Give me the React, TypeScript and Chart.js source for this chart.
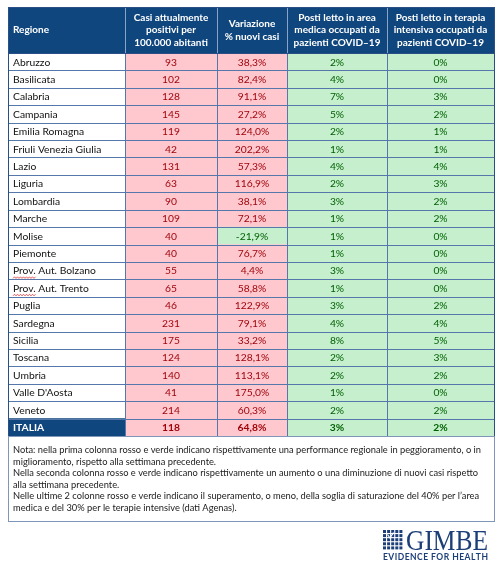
import React, { useEffect, useRef } from 'react';
import { Chart, registerables } from 'chart.js';

Chart.register(...registerables);

// ---------- DATA ----------
const regions = [
  'Abruzzo', 'Basilicata', 'Calabria', 'Campania', 'Emilia Romagna', 'Friuli Venezia Giulia',
  'Lazio', 'Liguria', 'Lombardia', 'Marche', 'Molise', 'Piemonte', 'Prov. Aut. Bolzano',
  'Prov. Aut. Trento', 'Puglia', 'Sardegna', 'Sicilia', 'Toscana', 'Umbria', "Valle D'Aosta",
  'Veneto', 'ITALIA',
];
const casiPer100k = [93, 102, 128, 145, 119, 42, 131, 63, 90, 109, 40, 40, 55, 65, 46, 231, 175, 124, 140, 41, 214, 118];
// first column: red = worsening vs previous week (all regions worsening)
const casiPeggioramento = [true, true, true, true, true, true, true, true, true, true, true, true, true, true, true, true, true, true, true, true, true, true];
const variazionePct = [38.3, 82.4, 91.1, 27.2, 124.0, 202.2, 57.3, 116.9, 38.1, 72.1, -21.9, 76.7, 4.4, 58.8, 122.9, 79.1, 33.2, 128.1, 113.1, 175.0, 60.3, 64.8];
const areaMedicaPct = [2, 4, 7, 5, 2, 1, 4, 2, 3, 1, 1, 1, 3, 1, 3, 4, 8, 2, 2, 1, 2, 3];
const terapiaIntensivaPct = [0, 0, 3, 2, 1, 1, 4, 3, 2, 2, 0, 0, 0, 0, 2, 4, 5, 3, 2, 0, 2, 2];
const sogliaAreaMedica = 40;
const sogliaTerapiaIntensiva = 30;

const headerLabels = [
  ['Regione'],
  ['Casi attualmente', 'positivi per', '100.000 abitanti'],
  ['Variazione', '% nuovi casi'],
  ['Posti letto in area', 'medica occupati da', 'pazienti COVID–19'],
  ['Posti letto in terapia', 'intensiva occupati da', 'pazienti COVID–19'],
];
const noteLines = [
  'Nota: nella prima colonna rosso e verde indicano rispettivamente una performance regionale in peggioramento, o in',
  'miglioramento, rispetto alla settimana precedente.',
  'Nella seconda colonna rosso e verde indicano rispettivamente un aumento o una diminuzione di nuovi casi rispetto',
  'alla settimana precedente.',
  'Nelle ultime 2 colonne rosso e verde indicano il superamento, o meno, della soglia di saturazione del 40% per l’area',
  'medica e del 30% per le terapie intensive (dati Agenas).',
];
const logoTitle = 'GIMBE';
const logoSubtitle = 'EVIDENCE FOR HEALTH';

// ---------- LAYOUT / STYLE ----------
const W = 503;
const H = 567;
const COL_EDGES = [0, 117, 209, 279, 379, 486];
const HEADER_H = 46;
const NOTE_BOTTOM = 521;
const FONT = 'Lato, "Open Sans", sans-serif';
const HEADER_BG = '#0f467d';
const RED_BG = '#ffc7ce';
const RED_TX = '#9c0006';
const GREEN_BG = '#c6efce';
const GREEN_TX = '#006100';
const GRID = '#5677ab';
const BORDER = '#2a4f86';
const LOGO = '#1d3f78';

const fmtPct1 = (v: number) => v.toFixed(1).replace('.', ',') + '%';

const isRed = (col: number, i: number): boolean => {
  if (col === 1) return casiPeggioramento[i];
  if (col === 2) return variazionePct[i] > 0;
  if (col === 3) return areaMedicaPct[i] >= sogliaAreaMedica;
  return terapiaIntensivaPct[i] >= sogliaTerapiaIntensiva;
};

const cellText = (col: number, i: number): string => {
  if (col === 0) return regions[i];
  if (col === 1) return String(casiPer100k[i]);
  if (col === 2) return fmtPct1(variazionePct[i]);
  if (col === 3) return areaMedicaPct[i] + '%';
  return terapiaIntensivaPct[i] + '%';
};

const lastRow = regions.length - 1;

const tablePlugin = {
  id: 'tablePlugin',
  afterDatasetsDraw(chart: any) {
    const { ctx, chartArea: ca, scales } = chart;
    const xs = scales.x;
    const ys = scales.y;
    const ex = COL_EDGES.map((v) => xs.getPixelForValue(v));
    const band = ys.getPixelForValue(1) - ys.getPixelForValue(0);
    const crisp = (v: number) => Math.round(v) + 0.5;
    ctx.save();

    // header
    const hTop = ca.top - HEADER_H;
    ctx.fillStyle = HEADER_BG;
    ctx.fillRect(ex[0], hTop, ex[5] - ex[0], HEADER_H);
    ctx.strokeStyle = '#8aa3c8';
    ctx.lineWidth = 1;
    for (let c = 1; c < 5; c++) {
      ctx.beginPath();
      ctx.moveTo(crisp(ex[c]), hTop);
      ctx.lineTo(crisp(ex[c]), ca.top);
      ctx.stroke();
    }
    ctx.fillStyle = '#ffffff';
    ctx.font = `bold 10px ${FONT}`;
    ctx.textBaseline = 'middle';
    const hMid = hTop + HEADER_H / 2;
    const lh = 12.6;
    headerLabels.forEach((lines, c) => {
      lines.forEach((line, k) => {
        const yy = hMid + (k - (lines.length - 1) / 2) * lh;
        if (c === 0) {
          ctx.textAlign = 'left';
          ctx.fillText(line, ex[0] + 5, yy);
        } else {
          ctx.textAlign = 'center';
          ctx.fillText(line, (ex[c] + ex[c + 1]) / 2, yy);
        }
      });
    });

    // grid lines
    ctx.strokeStyle = GRID;
    ctx.lineWidth = 1;
    for (let i = 1; i <= lastRow; i++) {
      const yy = crisp(ys.getPixelForValue(i) - band / 2);
      ctx.beginPath();
      ctx.moveTo(ex[0], yy);
      ctx.lineTo(ex[5], yy);
      ctx.stroke();
    }
    for (let c = 1; c < 5; c++) {
      ctx.beginPath();
      ctx.moveTo(crisp(ex[c]), ca.top);
      ctx.lineTo(crisp(ex[c]), ca.bottom);
      ctx.stroke();
    }
    // outer border
    ctx.strokeStyle = BORDER;
    ctx.strokeRect(crisp(ex[0]), crisp(hTop), Math.round(ex[5] - ex[0]), Math.round(ca.bottom - hTop));
    ctx.beginPath();
    ctx.moveTo(ex[0], crisp(ca.top));
    ctx.lineTo(ex[5], crisp(ca.top));
    ctx.stroke();

    // cell texts
    for (let i = 0; i <= lastRow; i++) {
      const yy = ys.getPixelForValue(i) + 0.5;
      const bold = i === lastRow;
      for (let c = 0; c < 5; c++) {
        ctx.font = `${bold ? 'bold ' : ''}10.3px ${FONT}`;
        if (c === 0) {
          ctx.fillStyle = bold ? '#ffffff' : '#111111';
          ctx.textAlign = 'left';
          ctx.fillText(cellText(c, i), ex[0] + 5, yy);
          if (regions[i].startsWith('Prov.')) {
            const w = ctx.measureText('Prov.').width;
            ctx.strokeStyle = '#e03030';
            ctx.lineWidth = 0.8;
            ctx.beginPath();
            const base = yy + 6.5;
            for (let k = 0; k <= w; k += 1.5) {
              const px = ex[0] + 5 + k;
              const py = base + ((Math.round(k / 1.5) % 2) ? -0.8 : 0.8);
              if (k === 0) ctx.moveTo(px, py); else ctx.lineTo(px, py);
            }
            ctx.stroke();
          }
        } else {
          ctx.fillStyle = isRed(c, i) ? RED_TX : GREEN_TX;
          ctx.textAlign = 'center';
          ctx.fillText(cellText(c, i), (ex[c] + ex[c + 1]) / 2, yy);
        }
      }
    }

    // notes box
    ctx.strokeStyle = '#8096b8';
    ctx.lineWidth = 1;
    ctx.strokeRect(crisp(ex[0]), crisp(ca.bottom), Math.round(ex[5] - ex[0]), Math.round(NOTE_BOTTOM - ca.bottom));
    ctx.fillStyle = '#1a1a1a';
    ctx.font = `9.3px ${FONT}`;
    ctx.textAlign = 'left';
    ctx.textBaseline = 'middle';
    noteLines.forEach((line, k) => {
      ctx.fillText(line, ex[0] + 5, ca.bottom + 14 + k * 11.6);
    });

    // logo
    const lx = 383;
    const ly = 530;
    ctx.fillStyle = LOGO;
    const sq = 3;
    const gap = 1.1;
    for (let r = 0; r < 5; r++) {
      for (let c = 0; c < 5; c++) {
        ctx.fillRect(lx + c * (sq + gap), ly + r * (sq + gap), sq, sq);
      }
    }
    ctx.strokeStyle = '#ffffff';
    ctx.lineWidth = 1.2;
    ctx.beginPath();
    ctx.moveTo(lx + 4.5, ly + 4.5);
    ctx.lineTo(lx + 7, ly + 8);
    ctx.lineTo(lx + 10.5, ly + 2.5);
    ctx.stroke();
    ctx.fillStyle = LOGO;
    ctx.font = '29px "Liberation Serif", "DejaVu Serif", serif';
    ctx.textAlign = 'left';
    ctx.textBaseline = 'alphabetic';
    ctx.fillText(logoTitle, 406, 549.5, 82);
    ctx.font = `bold 8.5px ${FONT}`;
    const chars = logoSubtitle.split('');
    const natural = chars.reduce((s, ch) => s + ctx.measureText(ch).width, 0);
    const spacing = (488 - 383 - natural) / (chars.length - 1);
    let cx = 383;
    chars.forEach((ch) => {
      ctx.fillText(ch, cx, 560);
      cx += ctx.measureText(ch).width + spacing;
    });

    ctx.restore();
  },
};

export default function App() {
  const ref = useRef<HTMLCanvasElement | null>(null);
  useEffect(() => {
    if (!ref.current) return;
    const datasets = [0, 1, 2, 3, 4].map((c) => ({
      label: headerLabels[c].join(' '),
      data: regions.map(() => [COL_EDGES[c], COL_EDGES[c + 1]]),
      backgroundColor: regions.map((_, i) => {
        if (c === 0) return i === lastRow ? HEADER_BG : '#ffffff';
        return isRed(c, i) ? RED_BG : GREEN_BG;
      }),
      borderWidth: 0,
      barPercentage: 1,
      categoryPercentage: 1,
      grouped: false,
    }));
    const chart = new Chart(ref.current, {
      type: 'bar',
      data: { labels: regions, datasets: datasets as any },
      options: {
        indexAxis: 'y',
        responsive: false,
        animation: false,
        devicePixelRatio: 1,
        events: [],
        layout: { padding: { left: 8, right: W - 494, top: 7 + HEADER_H, bottom: H - 436 } },
        plugins: { legend: { display: false }, tooltip: { enabled: false } },
        scales: {
          x: { type: 'linear', display: false, min: COL_EDGES[0], max: COL_EDGES[COL_EDGES.length - 1] },
          y: { type: 'category', display: false, offset: true },
        },
      } as any,
      plugins: [tablePlugin],
    });
    return () => chart.destroy();
  }, []);
  return (
    <div style={{ position: 'absolute', left: 0, top: 0, width: W, height: H, background: '#ffffff' }}>
      <canvas ref={ref} width={W} height={H} style={{ display: 'block', width: W, height: H }} />
    </div>
  );
}
